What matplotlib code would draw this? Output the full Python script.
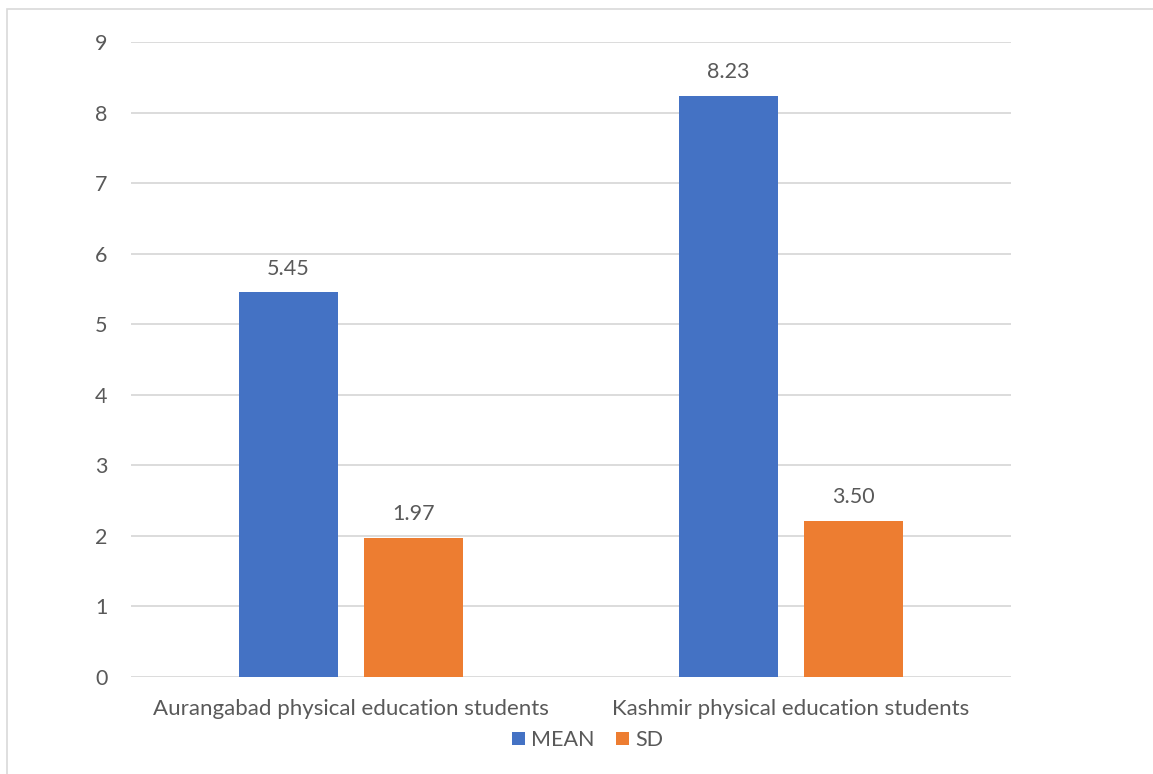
import matplotlib
matplotlib.use('Agg')
import numpy as np
import matplotlib.pyplot as plt
from matplotlib.patches import Rectangle

categories = ['Aurangabad physical education students', 'Kashmir physical education students']
mean_values = [5.45, 8.23]
sd_values = [1.97, 2.21]          # bar heights as drawn in the source chart
mean_labels = ['5.45', '8.23']
sd_labels = ['1.97', '3.50']      # data labels as printed
series_names = ['MEAN', 'SD']
yticks = [0, 1, 2, 3, 4, 5, 6, 7, 8, 9]

blue = '#4472C4'
orange = '#ED7D31'
text_color = '#595959'
grid_color = '#D9D9D9'

plt.rcParams['font.family'] = ['Lato', 'DejaVu Sans']

fig = plt.figure(figsize=(11.53, 7.74), dpi=100)
# light outer frame of the chart area
fig.patches.append(Rectangle((7 / 1153, -0.1), 1.2, (774 - 9) / 774 + 0.1, transform=fig.transFigure,
                             fill=False, edgecolor='#D9D9D9', linewidth=1.2))
ax = fig.add_axes([131 / 1153, 97 / 774, 880 / 1153, 635 / 774])

x = np.arange(len(categories))
width = 0.223
offset = 0.142
bars_mean = ax.bar(x - offset, mean_values, width, color=blue, label=series_names[0], zorder=3)
bars_sd = ax.bar(x + offset, sd_values, width, color=orange, label=series_names[1], zorder=3)

for bars, labels in ((bars_mean, mean_labels), (bars_sd, sd_labels)):
    for b, lab in zip(bars, labels):
        ax.annotate(lab, (b.get_x() + b.get_width() / 2, b.get_height()), xytext=(0, 10),
                    textcoords='offset points', ha='center', va='bottom', fontsize=15.5, color=text_color)

ax.set_xlim(-0.5, 1.5)
ax.set_ylim(0, 9)
ax.set_yticks(yticks)
ax.set_xticks(x)
ax.set_xticklabels(categories)
ax.yaxis.grid(True, color=grid_color, linewidth=1.3, zorder=0)
ax.tick_params(axis='y', length=0, pad=17, labelsize=15.5, labelcolor=text_color)
ax.tick_params(axis='x', length=0, pad=16, labelsize=16, labelcolor=text_color)
for s in ax.spines.values():
    s.set_visible(False)

ax.legend(loc='upper center', bbox_to_anchor=(0.519, -0.053), ncol=2, frameon=False, fontsize=15.5,
          handlelength=0.6, handleheight=0.6, handletextpad=0.3, columnspacing=1.0, labelcolor=text_color)

plt.savefig('out.png', dpi=100)
